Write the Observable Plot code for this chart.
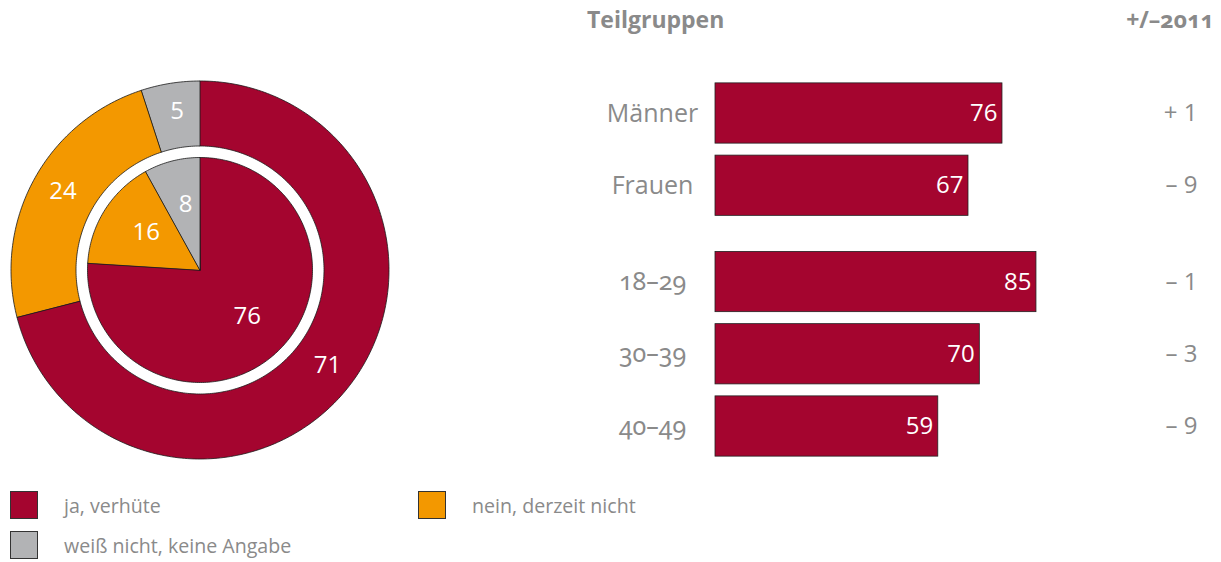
<!DOCTYPE html>
<html>
<head>
<meta charset="utf-8">
<script src="https://cdn.jsdelivr.net/npm/d3@7"></script>
<script src="https://cdn.jsdelivr.net/npm/@observablehq/plot@0.6"></script>
<style>
  html, body { margin: 0; padding: 0; background: #fff; }
  body { width: 1221px; height: 562px; position: relative; overflow: hidden; font-family: "Open Sans", sans-serif; color: #8a8a8a; }
  .abs { position: absolute; white-space: nowrap; }
  .hdr { font-size: 23px; line-height: 23px; font-weight: 700; color: #8a8a8a; }
  .onum { font-family: "Noto Sans", "Open Sans", sans-serif; font-variant-numeric: oldstyle-nums; font-feature-settings: "onum" 1; }
  .sw { position: absolute; width: 26px; height: 26px; border: 0.8px solid #333; }
  .lt { position: absolute; font-size: 19.6px; line-height: 20px; color: #8a8a8a; white-space: nowrap; }
  svg text.onumtext { font-family: "Noto Sans", "Open Sans", sans-serif; font-variant-numeric: oldstyle-nums; font-feature-settings: "onum" 1; }
</style>
</head>
<body>
<div id="donut" class="abs" style="left:0;top:0;"></div>
<div id="bars" class="abs" style="left:580px;top:0;"></div>
<div class="abs hdr" style="left:587px;top:8px;">Teilgruppen</div>
<div class="abs hdr onum" style="right:7px;top:8px;">+/–2011</div>
<div id="legend"></div>
<script>
// ---- data ----
const categories = ["ja, verhüte", "nein, derzeit nicht", "weiß nicht, keine Angabe"];
const colors = ["#a4052f", "#f39800", "#b2b3b5"];
const outerValues = [71, 24, 5];
const innerValues = [76, 16, 8];
const groups = ["Männer", "Frauen", "18–29", "30–39", "40–49"];
const groupValues = [76, 67, 85, 70, 59];
const changes = ["+ 1", "– 9", "– 1", "– 3", "– 9"];

// ---- donut geometry (derived from values) ----
function ringPolygons(values, ring, r0, r1) {
  const total = d3.sum(values);
  const pts = [];
  let cum = 0;
  values.forEach((v, i) => {
    const a0 = cum / total * 2 * Math.PI;
    const a1 = (cum + v) / total * 2 * Math.PI;
    cum += v;
    const id = ring + i;
    const n = Math.max(2, Math.ceil((a1 - a0) / (Math.PI / 180)));
    for (let k = 0; k <= n; k++) {
      const a = a0 + (a1 - a0) * k / n;
      pts.push({id, cat: categories[i], x: r1 * Math.sin(a), y: r1 * Math.cos(a)});
    }
    if (r0 > 0) {
      for (let k = n; k >= 0; k--) {
        const a = a0 + (a1 - a0) * k / n;
        pts.push({id, cat: categories[i], x: r0 * Math.sin(a), y: r0 * Math.cos(a)});
      }
    } else {
      pts.push({id, cat: categories[i], x: 0, y: 0});
    }
  });
  return pts;
}
function ringLabels(values, rl) {
  const total = d3.sum(values);
  let cum = 0;
  return values.map((v) => {
    const a = (cum + v / 2) / total * 2 * Math.PI;
    cum += v;
    return {x: rl * Math.sin(a), y: rl * Math.cos(a), text: String(v)};
  });
}
const R_OUT = 1, R_RING_IN = 124 / 189, R_PIE = 112.5 / 189;
const slices = [
  ...ringPolygons(outerValues, "o", R_RING_IN, R_OUT),
  ...ringPolygons(innerValues, "i", 0, R_PIE)
];
const donutLabels = [...ringLabels(outerValues, 0.84), ...ringLabels(innerValues, 0.35)];

const donut = Plot.plot({
  width: 400, height: 470, margin: 0,
  x: {domain: [-1, 1], range: [10.5, 388.5], axis: null},
  y: {domain: [-1, 1], range: [458.5, 80.5], axis: null},
  color: {domain: categories, range: colors},
  style: {fontFamily: "Open Sans, sans-serif", background: "transparent"},
  marks: [
    Plot.line(slices, {x: "x", y: "y", z: "id", fill: "cat", stroke: "#1a1a1a", strokeWidth: 0.8, curve: "linear-closed"}),
    Plot.text(donutLabels, {x: "x", y: "y", text: "text", fill: "white", fontSize: 24, dx: 2, dy: -2})
  ]
});
document.getElementById("donut").append(donut);

// ---- bars ----
const rows = groups.map((g, i) => {
  const pos = i + (i >= 2 ? 1 / 3 : 0);
  return {group: g, value: groupValues[i], change: changes[i], pos, y1: pos - 0.417, y2: pos + 0.417};
});
const bars = Plot.plot({
  width: 641, height: 470, margin: 0,
  x: {domain: [0, 100], range: [135, 512.6], axis: null},
  y: {domain: [0, 13 / 3], range: [113, 426], axis: null},
  style: {fontFamily: "Open Sans, sans-serif", background: "transparent"},
  marks: [
    Plot.rect(rows, {x1: () => 0, x2: "value", y1: "y1", y2: "y2", fill: colors[0], stroke: "#222", strokeWidth: 0.8}),
    Plot.text(rows, {x: "value", y: "pos", text: d => String(d.value), textAnchor: "end", dx: -5, fill: "white", fontSize: 24}),
    Plot.text(rows, {y: "pos", text: "group", frameAnchor: "left", dx: 72, textAnchor: "middle", fill: "#8a8a8a", fontSize: 25, ariaLabel: "groups"}),
    Plot.text(rows, {y: "pos", text: "change", frameAnchor: "right", dx: -24, textAnchor: "end", fill: "#8a8a8a", fontSize: 24})
  ]
});
bars.querySelectorAll("text").forEach(t => {
  if (groups.includes(t.textContent) && /\d/.test(t.textContent)) t.classList.add("onumtext");
});
document.getElementById("bars").append(bars);

// ---- legend ----
const legendPos = [[10, 491], [418, 491], [10, 531]];
const legend = document.getElementById("legend");
categories.forEach((c, i) => {
  const [lx, ly] = legendPos[i];
  const sw = document.createElement("div");
  sw.className = "sw";
  sw.style.left = lx + "px"; sw.style.top = ly + "px"; sw.style.background = colors[i];
  legend.append(sw);
  const t = document.createElement("div");
  t.className = "lt";
  t.style.left = (lx + 54) + "px"; t.style.top = (ly + 5) + "px";
  t.textContent = c;
  legend.append(t);
});
</script>
</body>
</html>
